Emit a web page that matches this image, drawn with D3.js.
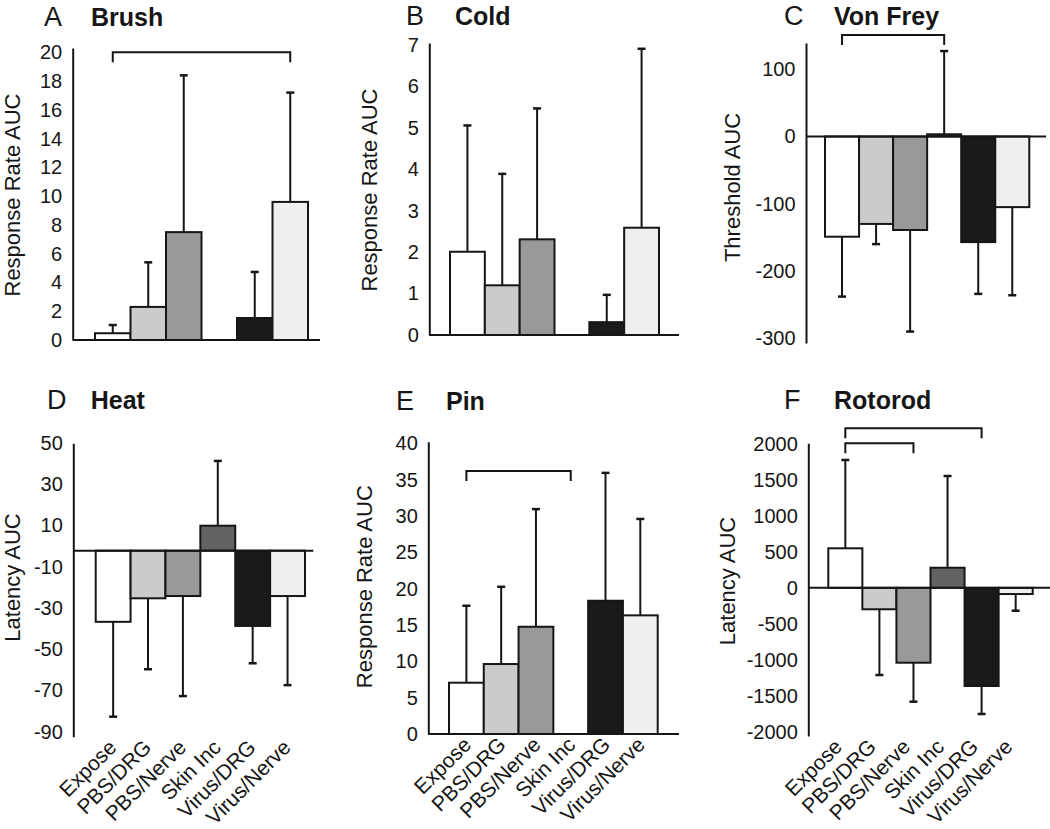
<!DOCTYPE html>
<html><head><meta charset="utf-8">
<script src="https://cdnjs.cloudflare.com/ajax/libs/d3/7.8.5/d3.min.js"></script>
<style>
html,body{margin:0;padding:0;background:#fff;}
svg{display:block;font-family:"Liberation Sans",Arial,Helvetica,sans-serif;}
</style></head>
<body>
<svg id="chart" width="1050" height="829"></svg>
<script>
// ---------- DATA ----------
const categories = ["Expose","PBS/DRG","PBS/Nerve","Skin Inc","Virus/DRG","Virus/Nerve"];
const barColors = ["#ffffff","#cbcbcb","#999999","#636363","#1a1a1a","#efefef"];

const brushMean = [0.47, 2.3, 7.5, null, 1.53, 9.6];
const brushErrEnd = [1.04, 5.4, 18.4, null, 4.73, 17.2];
const brushTicks = [0,2,4,6,8,10,12,14,16,18,20];
const brushBrackets = [[0,5,20.0]];

const coldMean = [2.01, 1.2, 2.31, null, 0.31, 2.59];
const coldErrEnd = [5.06, 3.89, 5.47, null, 0.97, 6.91];
const coldTicks = [0,1,2,3,4,5,6,7];
const coldBrackets = [];

const vonFreyMean = [-149, -130, -139, 3.3, -157, -105];
const vonFreyErrEnd = [-238, -160, -290, 127, -234, -236];
const vonFreyTicks = [100,0,-100,-200,-300];
const vonFreyBrackets = [[0,3,151]];

const heatMean = [-36.7, -25.3, -24.2, 9.9, -38.7, -24.2];
const heatErrEnd = [-82.7, -59.7, -72.7, 41.3, -56.8, -67.4];
const heatTicks = [50,30,10,-10,-30,-50,-70,-90];
const heatBrackets = [];

const pinMean = [7.06, 9.63, 14.76, null, 18.34, 16.33];
const pinErrEnd = [17.65, 20.26, 30.95, null, 35.94, 29.6];
const pinTicks = [0,5,10,15,20,25,30,35,40];
const pinBrackets = [[0,3,36.2]];

const rotorodMean = [550, -298, -1041, 280, -1365, -86];
const rotorodErrEnd = [1778, -1212, -1583, 1555, -1754, -318];
const rotorodTicks = [2000,1500,1000,500,0,-500,-1000,-1500,-2000];
const rotorodBrackets = [[0,4,2220],[0,2,2012]];

// ---------- LAYOUT ----------
const panels = [
  {letter:"A", name:"Brush", ylab:"Response Rate AUC", mean:brushMean, err:brushErrEnd, ticks:brushTicks, brackets:brushBrackets,
   domain:[0,20.3], yBottom:340, yTop:48, axisX:72.7, lineEnd:320, band:[95,308], cross:0,
   letterPos:[44,25.5], namePos:[91,25.5], ylabPos:[20,195], xlabels:false},
  {letter:"B", name:"Cold", ylab:"Response Rate AUC", mean:coldMean, err:coldErrEnd, ticks:coldTicks, brackets:coldBrackets,
   domain:[0,7.05], yBottom:335, yTop:43, axisX:429.3, lineEnd:679, band:[450,659], cross:0,
   letterPos:[406,24.5], namePos:[455,24.5], ylabPos:[376.5,190], xlabels:false},
  {letter:"C", name:"Von Frey", ylab:"Threshold AUC", mean:vonFreyMean, err:vonFreyErrEnd, ticks:vonFreyTicks, brackets:vonFreyBrackets,
   domain:[-307,139], yBottom:343, yTop:43, axisX:806, lineEnd:1046, band:[825,1029.3], cross:0,
   letterPos:[784,25], namePos:[834,25], ylabPos:[740,187.5], xlabels:false},
  {letter:"D", name:"Heat", ylab:"Latency AUC", mean:heatMean, err:heatErrEnd, ticks:heatTicks, brackets:heatBrackets,
   domain:[-92.4,49.85], yBottom:736.7, yTop:443.3, axisX:73.3, lineEnd:313.3, band:[95.7,305], cross:-2.2,
   letterPos:[47,409], namePos:[90.7,409], ylabPos:[19.5,577.5], xlabels:true, xlabDx:4.5},
  {letter:"E", name:"Pin", ylab:"Response Rate AUC", mean:pinMean, err:pinErrEnd, ticks:pinTicks, brackets:pinBrackets,
   domain:[0,40.23], yBottom:734, yTop:441.7, axisX:428.3, lineEnd:679, band:[449,657.7], cross:0,
   letterPos:[396,410], namePos:[446,410], ylabPos:[371.7,586.7], xlabels:true, xlabDx:6},
  {letter:"F", name:"Rotorod", ylab:"Latency AUC", mean:rotorodMean, err:rotorodErrEnd, ticks:rotorodTicks, brackets:rotorodBrackets,
   domain:[-2060,2010], yBottom:736, yTop:443.3, axisX:808.3, lineEnd:1050, band:[828.3,1032.7], cross:0,
   letterPos:[784,409], namePos:[834,409], ylabPos:[735,581], xlabels:true, xlabDx:-2}
];

const ink = "#161616";
const svg = d3.select("#chart");

panels.forEach(p => {
  const g = svg.append("g");
  const y = d3.scaleLinear().domain(p.domain).range([p.yBottom, p.yTop]);
  const x = d3.scaleBand().domain(categories).range(p.band).padding(0);
  const rows = categories.map((c,i) => ({c, i, v:p.mean[i], e:p.err[i]})).filter(d => d.v !== null);

  // bars
  g.selectAll("rect.bar").data(rows).enter().append("rect")
    .attr("class","bar")
    .attr("x", d => x(d.c))
    .attr("width", x.bandwidth())
    .attr("y", d => Math.min(y(d.v), y(p.cross)))
    .attr("height", d => Math.abs(y(d.v) - y(p.cross)))
    .attr("fill", d => barColors[d.i])
    .attr("stroke", ink).attr("stroke-width", 2);

  // error bars
  const eg = g.selectAll("g.err").data(rows).enter().append("g").attr("class","err");
  eg.append("line")
    .attr("x1", d => x(d.c) + x.bandwidth()/2).attr("x2", d => x(d.c) + x.bandwidth()/2)
    .attr("y1", d => y(d.v)).attr("y2", d => y(d.e))
    .attr("stroke", ink).attr("stroke-width", 2);
  eg.append("line")
    .attr("x1", d => x(d.c) + x.bandwidth()/2 - 4).attr("x2", d => x(d.c) + x.bandwidth()/2 + 4)
    .attr("y1", d => y(d.e)).attr("y2", d => y(d.e))
    .attr("stroke", ink).attr("stroke-width", 2.5);

  // baseline / zero line
  g.append("line")
    .attr("x1", p.axisX).attr("x2", p.lineEnd)
    .attr("y1", y(p.cross)).attr("y2", y(p.cross))
    .attr("stroke", ink).attr("stroke-width", 2);

  // y axis
  const ax = d3.axisLeft(y).tickValues(p.ticks).tickSize(0).tickSizeOuter(0).tickPadding(10.5)
    .tickFormat(d => String(d));
  const ag = g.append("g").attr("transform", `translate(${p.axisX},0)`).call(ax);
  ag.select(".domain").attr("stroke", ink).attr("stroke-width", 2);
  ag.selectAll(".tick text").attr("font-size", 20).attr("fill", ink)
    .attr("font-family", '"Liberation Sans",Arial,sans-serif');

  // brackets
  p.brackets.forEach(b => {
    const x1 = x(categories[b[0]]) + x.bandwidth()/2;
    const x2 = x(categories[b[1]]) + x.bandwidth()/2;
    const yy = y(b[2]);
    g.append("path")
      .attr("d", `M${x1},${yy+10}V${yy}H${x2}V${yy+10}`)
      .attr("fill","none").attr("stroke", ink).attr("stroke-width", 2);
  });

  // titles
  g.append("text").attr("x", p.letterPos[0]).attr("y", p.letterPos[1])
    .attr("font-size", 27).attr("fill", ink).text(p.letter);
  g.append("text").attr("x", p.namePos[0]).attr("y", p.namePos[1])
    .attr("font-size", 25).attr("font-weight","bold").attr("fill", ink).text(p.name);

  // y label
  g.append("text")
    .attr("transform", `translate(${p.ylabPos[0]},${p.ylabPos[1]}) rotate(-90)`)
    .attr("text-anchor","middle").attr("font-size", 22).attr("fill", ink).text(p.ylab);

  // x labels
  if (p.xlabels) {
    g.selectAll("text.xl").data(categories).enter().append("text")
      .attr("class","xl")
      .attr("transform", c => `translate(${x(c) + x.bandwidth()/2 + p.xlabDx},${p.yBottom + 12}) rotate(-45)`)
      .attr("text-anchor","end").attr("font-size", 21).attr("fill", ink).text(c => c);
  }
});
</script>
</body></html>
